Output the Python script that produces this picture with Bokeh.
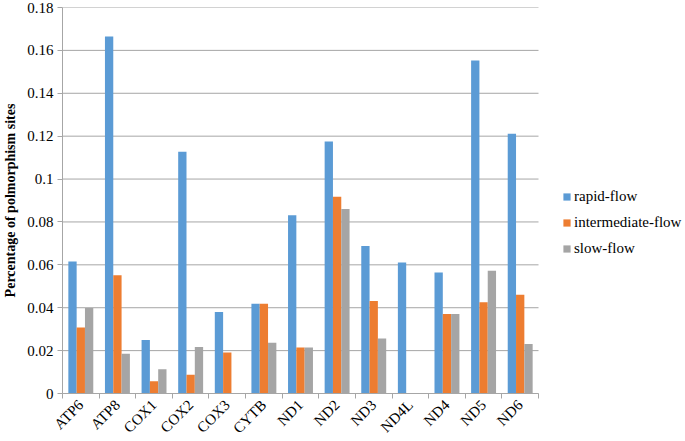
import numpy as np
from bokeh.plotting import figure
from bokeh.models import (FixedTicker, NumeralTickFormatter, Legend, LegendItem,
                          Range1d, ColumnDataSource)
from bokeh.embed import file_html
from bokeh.resources import INLINE

genes = ["ATP6", "ATP8", "COX1", "COX2", "COX3", "CYTB", "ND1", "ND2",
         "ND3", "ND4L", "ND4", "ND5", "ND6"]
rapid_flow = [0.0615, 0.1665, 0.0250, 0.1127, 0.0380, 0.0419, 0.0831, 0.1175,
              0.0688, 0.0611, 0.0564, 0.1553, 0.1211]
intermediate_flow = [0.0308, 0.0552, 0.0057, 0.0087, 0.0191, 0.0419, 0.0215, 0.0918,
                     0.0431, 0.0, 0.0371, 0.0425, 0.0460]
slow_flow = [0.0399, 0.0185, 0.0113, 0.0217, 0.0, 0.0237, 0.0215, 0.0860,
             0.0257, 0.0, 0.0371, 0.0572, 0.0231]
series_names = ["rapid-flow", "intermediate-flow", "slow-flow"]
y_ticks = [0, 0.02, 0.04, 0.06, 0.08, 0.1, 0.12, 0.14, 0.16, 0.18]

colors = ["#5B9BD5", "#ED7D31", "#A5A5A5"]
FONT = "'Liberation Serif', 'Times New Roman', serif"
GRID = "#A6A6A6"

n = len(genes)
plot_w = 476          # width of the bar area in px
frame_w = 620         # frame also holds the legend to the right of the bars
x_end = n * frame_w / plot_w

p = figure(frame_width=frame_w, frame_height=386, output_backend="svg", toolbar_location=None,
           x_range=Range1d(0, x_end), y_range=Range1d(0, 0.18),
           min_border_left=0, min_border_top=7, min_border_bottom=0,
           min_border_right=0)
p.outline_line_color = None
p.background_fill_color = "white"
p.border_fill_color = "white"
p.xgrid.grid_line_color = None
p.ygrid.grid_line_color = None

# horizontal gridlines limited to the bar area
p.segment(x0=[0] * len(y_ticks), x1=[n] * len(y_ticks), y0=y_ticks, y1=y_ticks,
          line_color=GRID, line_width=1)

idx = np.arange(n)
bw = 0.227
renderers = []
for k, vals in enumerate([rapid_flow, intermediate_flow, slow_flow]):
    src = ColumnDataSource(dict(x=idx + 0.5 + (k - 1) * bw, top=vals))
    r = p.vbar(x="x", top="top", width=bw, bottom=0, source=src,
               fill_color=colors[k], line_color=None)
    renderers.append(r)

# x axis
centers = [float(c) for c in idx + 0.5]
p.xaxis.bounds = (0, n)
p.xaxis.ticker = FixedTicker(ticks=centers, minor_ticks=[float(i) for i in range(n + 1)])
p.xaxis.major_label_overrides = {c: g for c, g in zip(centers, genes)}
p.xaxis.major_label_orientation = np.pi / 4
p.xaxis.major_tick_out = 0
p.xaxis.major_tick_in = 0
p.xaxis.minor_tick_out = 5
p.xaxis.minor_tick_in = 0
p.xaxis.minor_tick_line_color = GRID
p.xaxis.axis_line_color = GRID
p.xaxis.major_label_text_font = FONT
p.xaxis.major_label_text_font_size = "15px"
p.xaxis.major_label_text_color = "black"
p.xaxis.major_label_standoff = 4

# y axis
p.yaxis.ticker = FixedTicker(ticks=y_ticks)
p.yaxis.formatter = NumeralTickFormatter(format="0.[00]")
p.yaxis.major_tick_out = 5
p.yaxis.major_tick_in = 0
p.yaxis.minor_tick_line_color = None
p.yaxis.major_tick_line_color = GRID
p.yaxis.axis_line_color = GRID
p.yaxis.major_label_text_font = FONT
p.yaxis.major_label_text_font_size = "15px"
p.yaxis.major_label_text_color = "black"
p.yaxis.major_label_standoff = 4
p.yaxis.axis_label = "Percentage of polmorphism sites"
p.yaxis.axis_label_text_font = FONT
p.yaxis.axis_label_text_font_size = "14px"
p.yaxis.axis_label_text_font_style = "bold"
p.yaxis.axis_label_text_color = "black"
p.yaxis.axis_label_standoff = 6

legend = Legend(items=[LegendItem(label=s, renderers=[r]) for s, r in zip(series_names, renderers)],
                location=(500, 136))
legend.label_text_font = FONT
legend.label_text_font_size = "15px"
legend.label_text_color = "black"
legend.glyph_width = 9
legend.glyph_height = 9
legend.label_standoff = 3
legend.label_height = 17
legend.spacing = 9
legend.padding = 0
legend.margin = 0
legend.border_line_color = None
legend.background_fill_alpha = 0
p.add_layout(legend, "center")

open("out.html", "w").write(file_html(p, INLINE))
